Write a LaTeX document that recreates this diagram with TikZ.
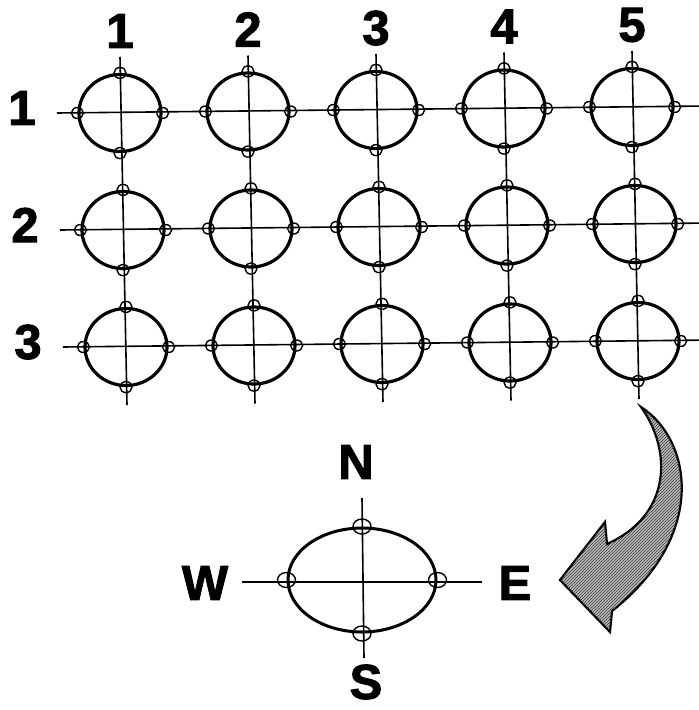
\documentclass[tikz,border=0pt]{standalone}
\usepackage{fontspec}
\setmainfont{Liberation Sans}[BoldFeatures={FakeBold=2}]
\usetikzlibrary{shapes.geometric,calc,patterns}
\begin{document}
\begin{tikzpicture}[x=1pt,y=-1pt,
  cell/.style={ellipse,draw,line width=3.2pt,minimum width=82pt,minimum height=77pt,inner sep=0pt},
  pin/.style={ellipse,draw,line width=1.4pt,minimum width=12pt,minimum height=11pt,inner sep=0pt},
  bigpin/.style={ellipse,draw,line width=1.4pt,minimum width=18pt,minimum height=15pt,inner sep=0pt},
  axis/.style={line width=1.6pt},
  lbl/.style={font=\bfseries\fontsize{49}{49}\selectfont,inner sep=0pt}]
\useasboundingbox (0,0) rectangle (699,710);
% grid cells
\foreach \r in {1,2,3} {
  \foreach \c in {1,...,5} {
    \pgfmathsetmacro\cx{120+(\c-1)*128+(\r-1)*3}
    \pgfmathsetmacro\cy{113+(\r-1)*117-(\c-1)*1.5}
    \node[cell] (g\r\c) at (\cx,\cy) {};
  }
}
% row lines and labels
\foreach \r in {1,2,3} {
  \coordinate (rl\r) at ($(g\r1.center)+(-63,0)$);
  \coordinate (rr\r) at ($(g\r5.center)+(75,-1)$);
  \draw[axis] (rl\r) -- (rr\r);
  \node[lbl] (row\r) at ($(g\r1.center)+(-98,-5)$) {\r};
}
% column lines and labels
\foreach \c in {1,...,5} {
  \coordinate (ct\c) at ($(g1\c.center)+(0,-56)$);
  \coordinate (cb\c) at ($(g3\c.center)+(1,58)$);
  \draw[axis] (ct\c) -- (cb\c);
  \node[lbl] (col\c) at ($(g1\c.center)+(0,-82)$) {\c};
}
% pins
\foreach \r in {1,2,3} {
  \foreach \c in {1,...,5} {
    \node[pin] (pn\r\c) at (g\r\c.north) {};
    \node[pin] (ps\r\c) at (g\r\c.south) {};
    \node[pin] (pe\r\c) at (g\r\c.east) {};
    \node[pin] (pw\r\c) at (g\r\c.west) {};
  }
}
% curved arrow
\draw[line width=2.2pt, fill=gray!50, postaction={pattern=north east lines, pattern color=black!80}]
  (641,407) .. controls (692,440) and (708,535) .. (612,611)
  -- (610,632) -- (560,580) -- (605,522) -- (607,544)
  .. controls (672,515) and (672,450) .. (641,407) -- cycle;
% compass
\node[ellipse,draw,line width=3pt,minimum width=148pt,minimum height=104pt,inner sep=0pt] (compass) at (362,580) {};
\coordinate (cw) at (242,582);
\coordinate (ce) at (482,582);
\coordinate (cn) at (362,498);
\coordinate (cs) at (364,658);
\draw[axis] (cw) -- (ce);
\draw[axis] (cn) -- (cs);
\node[bigpin] (bn) at (compass.north) {};
\node[bigpin] (bs) at (compass.south) {};
\node[bigpin] (be) at (compass.east) {};
\node[bigpin] (bw) at (compass.west) {};
\node[lbl] (lN) at (356,462) {N};
\node[lbl] (lW) at (205,583) {W};
\node[lbl] (lE) at (515,583) {E};
\node[lbl] (lS) at (366,682) {S};
\end{tikzpicture}
\end{document}
